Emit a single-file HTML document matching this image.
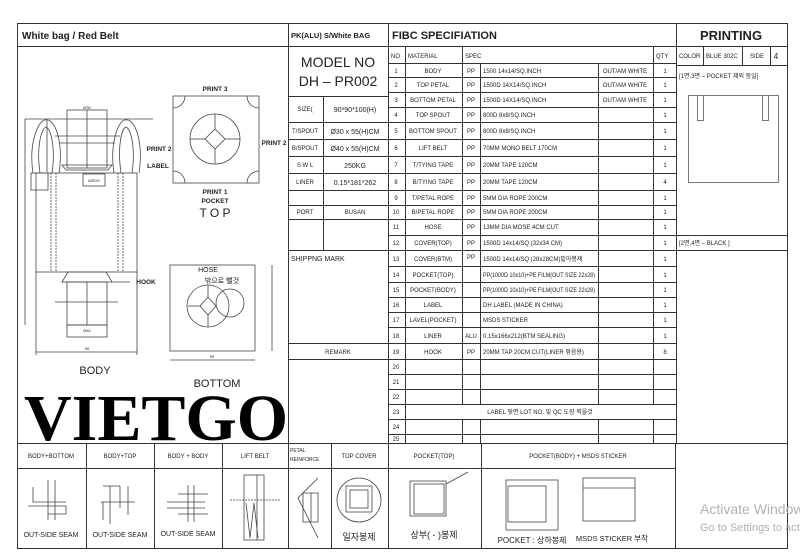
<!DOCTYPE html>
<html><head><meta charset="utf-8"><style>
html,body{margin:0;padding:0;background:#fff;width:800px;height:560px;overflow:hidden}
svg{display:block}
text{font-family:"Liberation Sans","Noto Sans CJK KR",sans-serif;fill:#222}
.s{font-size:6px}
.m{font-size:7px}
</style></head><body>
<svg width="800" height="560" viewBox="0 0 800 560" xmlns="http://www.w3.org/2000/svg">
<g stroke="#333" stroke-width="1" fill="none">
<rect x="17.5" y="23.5" width="770" height="525"/>
<line x1="17" y1="46.5" x2="787" y2="46.5"/>
<line x1="288.5" y1="23" x2="288.5" y2="548"/>
<line x1="388.5" y1="23" x2="388.5" y2="548"/>
<line x1="676.5" y1="23" x2="676.5" y2="443"/>
<line x1="17" y1="443.5" x2="787" y2="443.5"/>
<line x1="17" y1="468.5" x2="675" y2="468.5"/>
<line x1="86.5" y1="443" x2="86.5" y2="548"/>
<line x1="154.5" y1="443" x2="154.5" y2="548"/>
<line x1="222.5" y1="443" x2="222.5" y2="548"/>
<line x1="331.5" y1="443" x2="331.5" y2="548"/>
<line x1="481.5" y1="443" x2="481.5" y2="548"/>
<line x1="675.5" y1="443" x2="675.5" y2="548"/>
<line x1="288" y1="96.5" x2="388" y2="96.5"/>
<line x1="288" y1="122.5" x2="388" y2="122.5"/>
<line x1="288" y1="139.5" x2="388" y2="139.5"/>
<line x1="288" y1="156.5" x2="388" y2="156.5"/>
<line x1="288" y1="173.5" x2="388" y2="173.5"/>
<line x1="288" y1="190.5" x2="388" y2="190.5"/>
<line x1="288" y1="205.5" x2="388" y2="205.5"/>
<line x1="288" y1="219.5" x2="388" y2="219.5"/>
<line x1="288" y1="250.5" x2="388" y2="250.5"/>
<line x1="288" y1="343.5" x2="388" y2="343.5"/>
<line x1="288" y1="359.5" x2="388" y2="359.5"/>
<line x1="323.5" y1="96" x2="323.5" y2="250"/>
<line x1="388" y1="63.5" x2="676" y2="63.5"/>
<line x1="388" y1="77.5" x2="676" y2="77.5"/>
<line x1="388" y1="92.5" x2="676" y2="92.5"/>
<line x1="388" y1="107.5" x2="676" y2="107.5"/>
<line x1="388" y1="122.5" x2="676" y2="122.5"/>
<line x1="388" y1="139.5" x2="676" y2="139.5"/>
<line x1="388" y1="156.5" x2="676" y2="156.5"/>
<line x1="388" y1="173.5" x2="676" y2="173.5"/>
<line x1="388" y1="190.5" x2="676" y2="190.5"/>
<line x1="388" y1="205.5" x2="676" y2="205.5"/>
<line x1="388" y1="219.5" x2="676" y2="219.5"/>
<line x1="388" y1="235.5" x2="787" y2="235.5"/>
<line x1="388" y1="250.5" x2="787" y2="250.5"/>
<line x1="388" y1="266.5" x2="676" y2="266.5"/>
<line x1="388" y1="282.5" x2="676" y2="282.5"/>
<line x1="388" y1="297.5" x2="676" y2="297.5"/>
<line x1="388" y1="312.5" x2="676" y2="312.5"/>
<line x1="388" y1="327.5" x2="676" y2="327.5"/>
<line x1="388" y1="343.5" x2="676" y2="343.5"/>
<line x1="388" y1="359.5" x2="676" y2="359.5"/>
<line x1="388" y1="374.5" x2="676" y2="374.5"/>
<line x1="388" y1="389.5" x2="676" y2="389.5"/>
<line x1="388" y1="404.5" x2="676" y2="404.5"/>
<line x1="388" y1="419.5" x2="676" y2="419.5"/>
<line x1="388" y1="434.5" x2="676" y2="434.5"/>
<line x1="405.5" y1="47" x2="405.5" y2="443"/>
<line x1="462.5" y1="47" x2="462.5" y2="404"/><line x1="462.5" y1="419" x2="462.5" y2="443"/>
<line x1="480.5" y1="63" x2="480.5" y2="404"/><line x1="480.5" y1="419" x2="480.5" y2="443"/>
<line x1="598.5" y1="63" x2="598.5" y2="404"/><line x1="598.5" y1="419" x2="598.5" y2="443"/>
<line x1="653.5" y1="47" x2="653.5" y2="404"/><line x1="653.5" y1="419" x2="653.5" y2="443"/>
<line x1="676" y1="65.5" x2="787" y2="65.5"/>
<line x1="703.5" y1="46" x2="703.5" y2="65"/>
<line x1="742.5" y1="46" x2="742.5" y2="65"/>
<line x1="770.5" y1="46" x2="770.5" y2="65"/>
<rect x="688.5" y="95.5" width="90" height="87" stroke="#777"/>
<rect x="697.5" y="95.5" width="6" height="25" stroke="#777"/>
<rect x="762.5" y="95.5" width="6" height="25" stroke="#777"/>
</g>

<g stroke="#444" stroke-width="0.8" fill="none">
<line x1="25" y1="119" x2="153" y2="119"/>
<line x1="25" y1="119" x2="25" y2="325"/>
<rect x="36" y="173" width="101" height="99"/>
<line x1="51" y1="173" x2="51" y2="272" stroke-dasharray="2,1"/>
<line x1="56" y1="173" x2="56" y2="272" stroke-dasharray="2,1"/>
<line x1="118" y1="173" x2="118" y2="272" stroke-dasharray="2,1"/>
<line x1="123" y1="173" x2="123" y2="272" stroke-dasharray="2,1"/>
<path d="M33 173 C28 140 40 118 46 120 C54 118 64 140 59 173"/>
<path d="M40 173 C36 145 42 128 46 127 C50 128 56 145 52 173"/>
<path d="M114 173 C109 140 120 118 126 120 C134 118 144 140 139 173"/>
<path d="M121 173 C117 145 122 128 126 127 C130 128 136 145 132 173"/>
<rect x="67" y="110" width="40" height="58"/>
<line x1="87" y1="110" x2="87" y2="168"/>
<line x1="55" y1="136" x2="120" y2="136"/>
<line x1="60" y1="143" x2="115" y2="143"/>
<path d="M62 165 L112 165 L108 170 L66 170 Z"/>
<rect x="83" y="174" width="22" height="12"/>
<rect x="31" y="173" width="17" height="17"/>
<line x1="47" y1="120" x2="47" y2="172"/>
<path d="M62 282 L68 272 L106 272 L112 282 Z"/>
<rect x="67" y="282" width="40" height="43"/>
<line x1="87" y1="282" x2="87" y2="325"/>
<line x1="55" y1="302" x2="118" y2="302"/>
<rect x="67" y="325" width="40" height="12"/>
<line x1="36" y1="272" x2="36" y2="355"/>
<line x1="137" y1="272" x2="137" y2="355"/>
<line x1="36" y1="352" x2="137" y2="352"/>
<line x1="112" y1="282" x2="130" y2="282"/>
<rect x="173" y="96" width="86" height="87"/>
<circle cx="215" cy="139" r="25"/>
<path d="M215 129 L225 139 L215 149 L205 139 Z"/>
<line x1="215" y1="114" x2="215" y2="129"/><line x1="215" y1="149" x2="215" y2="164"/>
<line x1="190" y1="139" x2="205" y2="139"/><line x1="225" y1="139" x2="240" y2="139"/>
<path d="M173 108 A12 12 0 0 0 185 96"/><path d="M247 96 A12 12 0 0 0 259 108"/>
<path d="M173 171 A12 12 0 0 1 185 183"/><path d="M247 183 A12 12 0 0 1 259 171"/>
<rect x="170" y="265" width="85" height="86"/>
<circle cx="208" cy="306" r="21"/>
<circle cx="230" cy="303" r="14"/>
<path d="M208 297 L216 306 L208 315 L200 306 Z"/>
<line x1="208" y1="285" x2="208" y2="297"/><line x1="208" y1="315" x2="208" y2="327"/>
<line x1="188" y1="306" x2="200" y2="306"/>
<line x1="170" y1="360" x2="255" y2="360"/>
<line x1="272" y1="265" x2="272" y2="351"/>
</g>

<g stroke="#444" stroke-width="0.8" fill="none">
<path d="M33 487 V502 H66 M28 506 H66 V514 H48 M48 480 V520 M55 480 V520"/>
<path d="M101 502 H135 M103 502 V520 M110 486 V524 M120 486 V508 M103 486 H120 M128 486 V515"/>
<path d="M167 502 H205 M167 508 H205 M188 485 V522 M194 485 V522 M178 494 H208 M178 514 H208"/>
<rect x="244" y="475" width="20" height="65"/>
<line x1="257" y1="475" x2="257" y2="540"/>
<line x1="230" y1="500" x2="280" y2="500" stroke-dasharray="2,1"/>
<path d="M246 503 L250 538 L254 503 L258 538"/>
<path d="M318 478 L298 498 L318 538 M303 493 H318 V522 H303 Z M311 493 V522"/>
<circle cx="359" cy="500" r="22"/>
<rect x="350" y="490" width="18" height="18"/><rect x="346" y="486" width="26" height="26"/>
<rect x="410" y="481" width="36" height="35"/><rect x="414" y="484" width="30" height="30"/>
<line x1="446" y1="484" x2="468" y2="472"/>
<rect x="506" y="480" width="52" height="50"/><rect x="508" y="486" width="38" height="36"/>
<rect x="583" y="478" width="52" height="43"/>
<line x1="583" y1="488" x2="635" y2="488"/>
</g>

<text x="22" y="39" style="font-size:10px;font-weight:bold">White bag / Red Belt</text>
<text x="291" y="38" style="font-size:7.5px;font-weight:bold">PK(ALU) S/White BAG</text>
<text x="392" y="39" style="font-size:11px;font-weight:bold">FIBC SPECIFIATION</text>
<text x="731" y="40" text-anchor="middle" style="font-size:13px;font-weight:bold">PRINTING</text>

<text x="338" y="67" text-anchor="middle" style="font-size:14px">MODEL NO</text>
<text x="338" y="86" text-anchor="middle" style="font-size:14px">DH – PR002</text>
<g class="s" text-anchor="middle">
<text x="305" y="111">SIZE(</text><text x="305" y="133">T/SPOUT</text><text x="305" y="150">B/SPOUT</text>
<text x="305" y="167">S W L</text><text x="305" y="184">LINER</text><text x="305" y="214">PORT</text>
<text x="338" y="354">REMARK</text><text x="355" y="214">BUSAN</text></g>
<g class="m" text-anchor="middle">
<text x="355" y="112">90*90*100(H)</text><text x="355" y="134">Ø30 x 55(H)CM</text>
<text x="355" y="151">Ø40 x 55(H)CM</text><text x="355" y="168">250KG</text><text x="355" y="185">0.15*181*262</text></g>
<text x="291" y="261" class="m">SHIPPNG MARK</text>

<g class="s">
<text x="391" y="58">NO</text><text x="408" y="58">MATERIAL</text><text x="465" y="58">SPEC</text><text x="656" y="58">QTY</text>
</g>
<g class="s" text-anchor="middle">
<text x="396" y="73">1</text><text x="396" y="87">2</text><text x="396" y="102">3</text><text x="396" y="117">4</text><text x="396" y="133">5</text><text x="396" y="150">6</text><text x="396" y="167">7</text><text x="396" y="184">8</text><text x="396" y="200">9</text><text x="396" y="214">10</text><text x="396" y="229">11</text><text x="396" y="245">12</text><text x="396" y="261">13</text><text x="396" y="277">14</text><text x="396" y="292">15</text><text x="396" y="307">16</text><text x="396" y="322">17</text><text x="396" y="338">18</text><text x="396" y="354">19</text><text x="396" y="369">20</text><text x="396" y="384">21</text><text x="396" y="399">22</text><text x="396" y="414">23</text><text x="396" y="429">24</text><text x="396" y="441">25</text>
<text x="433" y="73">BODY</text><text x="433" y="87">TOP PETAL</text><text x="433" y="102">BOTTOM PETAL</text><text x="433" y="117">TOP SPOUT</text><text x="433" y="133">BOTTOM SPOUT</text><text x="433" y="150">LIFT BELT</text><text x="433" y="167">T/TYING TAPE</text><text x="433" y="184">B/TYING TAPE</text><text x="433" y="200">T/PETAL ROPE</text><text x="433" y="214">B/PETAL ROPE</text><text x="433" y="229">HOSE</text><text x="433" y="245">COVER(TOP)</text><text x="433" y="261">COVER(BTM)</text><text x="433" y="277">POCKET(TOP)</text><text x="433" y="292">POCKET(BODY)</text><text x="433" y="307">LABEL</text><text x="433" y="322">LAVEL(POCKET)</text><text x="433" y="338">LINER</text><text x="433" y="354">HOOK</text>
<text x="471" y="73">PP</text><text x="471" y="87">PP</text><text x="471" y="102">PP</text><text x="471" y="117">PP</text><text x="471" y="133">PP</text><text x="471" y="150">PP</text><text x="471" y="167">PP</text><text x="471" y="184">PP</text><text x="471" y="200">PP</text><text x="471" y="214">PP</text><text x="471" y="229">PP</text><text x="471" y="245">PP</text><text x="471" y="259">PP</text><text x="471" y="338">ALU</text><text x="471" y="354">PP</text>
<text x="625" y="73">OUT/AM WHITE</text><text x="625" y="87">OUT/AM WHITE</text><text x="625" y="102">OUT/AM WHITE</text>
<text x="665" y="73">1</text><text x="665" y="87">1</text><text x="665" y="102">1</text><text x="665" y="117">1</text><text x="665" y="133">1</text><text x="665" y="150">1</text><text x="665" y="167">1</text><text x="665" y="184">4</text><text x="665" y="200">1</text><text x="665" y="214">1</text><text x="665" y="229">1</text><text x="665" y="245">1</text><text x="665" y="261">1</text><text x="665" y="277">1</text><text x="665" y="292">1</text><text x="665" y="307">1</text><text x="665" y="322">1</text><text x="665" y="338">1</text><text x="665" y="354">8</text>
<text x="540" y="414">LABEL 뒷면 LOT NO. 및 QC 도장 찍을것</text>
</g>
<g class="s">
<text x="483" y="73">1500 14x14/SQ.INCH</text><text x="483" y="87">1500D 14X14/SQ.INCH</text><text x="483" y="102">1500D 14X14/SQ.INCH</text><text x="483" y="117">800D 8x8/SQ.INCH</text><text x="483" y="133">800D 8x8/SQ.INCH</text><text x="483" y="150">70MM MONO BELT 170CM</text><text x="483" y="167">20MM TAPE 120CM</text><text x="483" y="184">20MM TAPE 120CM</text><text x="483" y="200">5MM DIA ROPE 200CM</text><text x="483" y="214">5MM DIA ROPE 200CM</text><text x="483" y="229">13MM DIA MOSE 4CM CUT</text><text x="483" y="245">1500D 14x14/SQ (32x34 CM)</text><text x="483" y="261">1500D 14x14/SQ (28x28CM)밑아봉제</text><text x="483" y="277" textLength="112" lengthAdjust="spacingAndGlyphs">PP(1000D 10x10)+PE FILM(OUT SIZE 22x28)</text><text x="483" y="292" textLength="112" lengthAdjust="spacingAndGlyphs">PP(1000D 10x10)+PE FILM(OUT SIZE 22x28)</text><text x="483" y="307">DH LABEL (MADE IN CHINA)</text><text x="483" y="322">MSDS STICKER</text><text x="483" y="338">0.15x166x212(BTM SEALING)</text><text x="483" y="354">20MM TAP 20CM CUT(LINER 묶음용)</text>
<text x="679" y="58">COLOR</text><text x="706" y="58">BLUE 302C</text><text x="750" y="58">SIDE</text>
<text x="679" y="78">[1면,3면 – POCKET 제외 동일]</text>
<text x="679" y="245">[2면,4면 – BLACK ]</text>
</g>
<text x="776" y="59" style="font-size:8px" text-anchor="middle">4</text>

<g style="font-size:6.5px;font-weight:bold" text-anchor="middle">
<text x="215" y="91">PRINT 3</text><text x="159" y="151">PRINT 2</text><text x="158" y="168">LABEL</text><text x="274" y="145">PRINT 2</text>
<text x="215" y="194">PRINT 1</text><text x="215" y="203">POCKET</text><text x="146" y="284">HOOK</text>
</g>
<text x="215" y="217" text-anchor="middle" style="font-size:12px">T O P</text>
<text x="208" y="272" text-anchor="middle" style="font-size:7px">HOSE</text>
<text x="222" y="283" text-anchor="middle" style="font-size:7px">밖으로 뺄것</text>
<text x="95" y="374" text-anchor="middle" style="font-size:11px">BODY</text>
<text x="217" y="387" text-anchor="middle" style="font-size:11px">BOTTOM</text>
<text x="87" y="332" text-anchor="middle" style="font-size:4px">Ø40</text>
<text x="87" y="350" text-anchor="middle" style="font-size:4px">90</text>
<text x="87" y="109" text-anchor="middle" style="font-size:4px">Ø30</text>
<text x="94" y="182" text-anchor="middle" style="font-size:4px">MSDS</text>
<text x="212" y="358" text-anchor="middle" style="font-size:4px">90</text>

<text x="24" y="440" style="font-family:'Liberation Serif',serif;font-weight:bold;font-size:66px;fill:#000">VIETGO</text>

<g class="s" text-anchor="middle">
<text x="51" y="458">BODY+BOTTOM</text><text x="120" y="458">BODY+TOP</text><text x="188" y="458">BODY + BODY</text><text x="255" y="458">LIFT BELT</text>
<text x="359" y="458">TOP COVER</text><text x="434" y="458">POCKET(TOP)</text><text x="578" y="458">POCKET(BODY) + MSDS STICKER</text>
</g>
<text x="290" y="452" style="font-size:5px">PETAL</text><text x="290" y="461" style="font-size:5px">REINFORCE</text>
<g class="m" text-anchor="middle">
<text x="51" y="537">OUT-SIDE SEAM</text><text x="120" y="537">OUT-SIDE SEAM</text><text x="188" y="536">OUT-SIDE SEAM</text>
</g>
<text x="359" y="540" text-anchor="middle" style="font-size:9px">일자봉제</text>
<text x="434" y="538" text-anchor="middle" style="font-size:9px">상부( - )봉제</text>
<text x="532" y="543" text-anchor="middle" style="font-size:8px">POCKET : 상하봉제</text>
<text x="612" y="541" text-anchor="middle" style="font-size:7.5px">MSDS STICKER 부착</text>

<text x="700" y="514" style="font-size:14px;fill:#b0b0b0">Activate Windows</text>
<text x="700" y="531" style="font-size:11px;fill:#b0b0b0">Go to Settings to activate</text>
</svg>
</body></html>
